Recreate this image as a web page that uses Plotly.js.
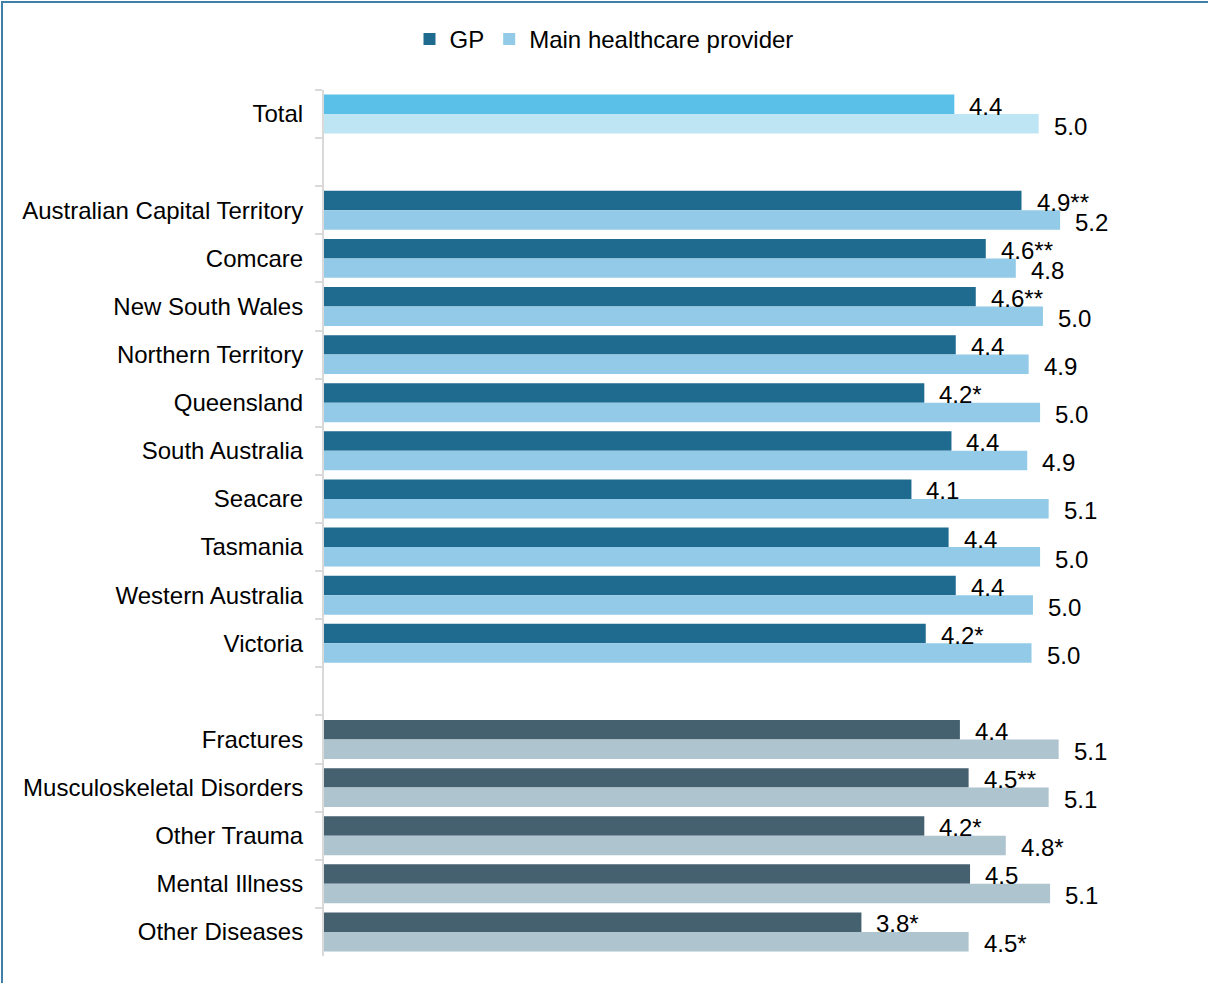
<!DOCTYPE html>
<html>
<head>
<meta charset="utf-8">
<script src="https://cdn.plot.ly/plotly-3.0.1.min.js"></script>
<style>
  html, body { margin: 0; padding: 0; background: #fff; }
  #chart { width: 1208px; height: 983px; position: absolute; left: 0; top: 0; }
  #frame { position: absolute; left: 1px; top: 1px; width: 1300px; height: 1100px;
           border-left: 2px solid #3F7FA8; border-top: 2px solid #3F7FA8; pointer-events: none; }
</style>
</head>
<body>
<div id="chart"></div>
<div id="frame"></div>
<script>
const categories = ["Total", " ", "Australian Capital Territory", "Comcare", "New South Wales",
  "Northern Territory", "Queensland", "South Australia", "Seacare", "Tasmania",
  "Western Australia", "Victoria", "  ", "Fractures", "Musculoskeletal Disorders",
  "Other Trauma", "Mental Illness", "Other Diseases"];

const gpValues   = [4.41, null, 4.88, 4.63, 4.56, 4.42, 4.20, 4.39, 4.11, 4.37, 4.42, 4.21, null, 4.449, 4.51, 4.20, 4.52, 3.76];
const mainValues = [5.00, null, 5.15, 4.84, 5.03, 4.93, 5.01, 4.92, 5.07, 5.01, 4.96, 4.95, null, 5.14, 5.07, 4.77, 5.08, 4.51];

const gpLabels   = ["4.4", "", "4.9**", "4.6**", "4.6**", "4.4", "4.2*", "4.4", "4.1", "4.4", "4.4", "4.2*", "", "4.4", "4.5**", "4.2*", "4.5", "3.8*"];
const mainLabels = ["5.0", "", "5.2", "4.8", "5.0", "4.9", "5.0", "4.9", "5.1", "5.0", "5.0", "5.0", "", "5.1", "5.1", "4.8*", "5.1", "4.5*"];

const seriesNames = ["GP", "Main healthcare provider"];

// category groups: [start, end) index ranges with their colours
const groups = [
  { start: 0,  end: 2,  gpColor: "#5BC0E8", mainColor: "#BDE5F4", legend: false },
  { start: 2,  end: 12, gpColor: "#1F6A8F", mainColor: "#92CAE7", legend: true  },
  { start: 12, end: 18, gpColor: "#45606E", mainColor: "#AEC4CF", legend: false }
];

const FONT = "Liberation Sans, Arial, sans-serif";
const FS = 24;

const traces = [];
groups.forEach(g => {
  const cats = categories.slice(g.start, g.end);
  traces.push({
    type: "bar", orientation: "h", name: seriesNames[0],
    y: cats, x: gpValues.slice(g.start, g.end),
    offsetgroup: "gp", legendgroup: "gp", showlegend: g.legend,
    marker: { color: g.gpColor }, hoverinfo: "x+y"
  });
  traces.push({
    type: "bar", orientation: "h", name: seriesNames[1],
    y: cats, x: mainValues.slice(g.start, g.end),
    offsetgroup: "main", legendgroup: "main", showlegend: g.legend,
    marker: { color: g.mainColor }, hoverinfo: "x+y"
  });
});

const annotations = [];
categories.forEach((c, i) => {
  if (gpValues[i] !== null) {
    annotations.push({ x: gpValues[i], y: c, xref: "x", yref: "y", text: gpLabels[i],
      showarrow: false, xanchor: "left", yanchor: "middle", xshift: 13, yshift: 8,
      font: { family: FONT, size: FS, color: "#000" } });
  }
  if (mainValues[i] !== null) {
    annotations.push({ x: mainValues[i], y: c, xref: "x", yref: "y", text: mainLabels[i],
      showarrow: false, xanchor: "left", yanchor: "middle", xshift: 13, yshift: -12,
      font: { family: FONT, size: FS, color: "#000" } });
  }
});

const layout = {
  width: 1208, height: 983,
  paper_bgcolor: "#fff", plot_bgcolor: "#fff",
  font: { family: FONT, size: FS, color: "#000" },
  margin: { l: 324, r: 55, t: 90, b: 27, pad: 0 },
  barmode: "group", bargap: 0.19, bargroupgap: 0,
  showlegend: true,
  legend: {
    orientation: "h", xref: "container", yref: "container",
    x: 0.5, xanchor: "center", y: 1 - 17 / 983, yanchor: "top",
    font: { family: FONT, size: FS, color: "#000" },
    traceorder: "normal", itemclick: false, itemdoubleclick: false
  },
  xaxis: {
    range: [0, 5.8], visible: false, showgrid: false, zeroline: false, fixedrange: true
  },
  yaxis: {
    type: "category", categoryorder: "array", categoryarray: categories,
    range: [17.5, -0.5], fixedrange: true,
    showline: true, linecolor: "#D9D9D9", linewidth: 2,
    ticks: "outside", tickson: "boundaries", ticklen: 7, tickwidth: 2, tickcolor: "#D9D9D9",
    ticklabelstandoff: 14, showgrid: false, zeroline: false,
    tickfont: { family: FONT, size: FS, color: "#000" }
  },
  annotations: annotations
};

Plotly.newPlot("chart", traces, layout, { displayModeBar: false, staticPlot: true });
</script>
</body>
</html>
